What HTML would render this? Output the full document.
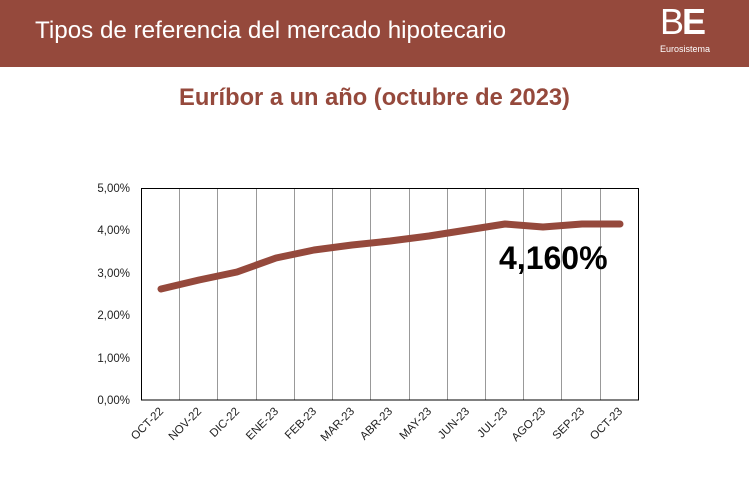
<!DOCTYPE html>
<html><head><meta charset="utf-8"><style>
body{margin:0;width:749px;height:499px;background:#fff;font-family:"Liberation Sans",sans-serif;overflow:hidden;position:relative}
.hdr{position:absolute;left:0;top:0;width:749px;height:67px;background:#95493c}
.hdr .t{position:absolute;left:35px;top:17px;color:#fff;font-size:24.2px}
</style></head><body>
<div class="hdr"><div class="t">Tipos de referencia del mercado hipotecario</div>
<div style="position:absolute;left:660px;top:4px;color:#fff;font-size:36px;letter-spacing:-2px;line-height:36px"><span style="font-weight:300">B</span><b>E</b></div>
<div style="position:absolute;left:660px;top:44px;color:#fff;font-size:9px">Eurosistema</div>
</div>
<div style="position:absolute;left:0;width:749px;top:85px;text-align:center;color:#95493c;font-size:23.7px;font-weight:bold">Euríbor a un año (octubre de 2023)</div>
<svg width="749" height="499" style="position:absolute;left:0;top:0" font-family="Liberation Sans, sans-serif">
<g stroke="#999" stroke-width="1">
<line x1="179.5" y1="188" x2="179.5" y2="400"/><line x1="217.5" y1="188" x2="217.5" y2="400"/><line x1="256.5" y1="188" x2="256.5" y2="400"/><line x1="294.5" y1="188" x2="294.5" y2="400"/><line x1="332.5" y1="188" x2="332.5" y2="400"/><line x1="370.5" y1="188" x2="370.5" y2="400"/><line x1="409.5" y1="188" x2="409.5" y2="400"/><line x1="447.5" y1="188" x2="447.5" y2="400"/><line x1="485.5" y1="188" x2="485.5" y2="400"/><line x1="523.5" y1="188" x2="523.5" y2="400"/><line x1="561.5" y1="188" x2="561.5" y2="400"/><line x1="600.5" y1="188" x2="600.5" y2="400"/>
</g>
<rect x="141.5" y="188.5" width="497" height="211.5" fill="none" stroke="#000" stroke-width="1"/>
<g font-size="11.5" fill="#222" text-anchor="end">
<text x="130" y="192">5,00%</text><text x="130" y="234">4,00%</text><text x="130" y="277">3,00%</text><text x="130" y="319">2,00%</text><text x="130" y="362">1,00%</text><text x="130" y="404">0,00%</text>
</g>
<g font-size="11.5" fill="#222" text-anchor="end">
<text transform="translate(164,412) rotate(-45)">OCT-22</text>
<text transform="translate(202,412) rotate(-45)">NOV-22</text>
<text transform="translate(240,412) rotate(-45)">DIC-22</text>
<text transform="translate(279,412) rotate(-45)">ENE-23</text>
<text transform="translate(317,412) rotate(-45)">FEB-23</text>
<text transform="translate(355,412) rotate(-45)">MAR-23</text>
<text transform="translate(393,412) rotate(-45)">ABR-23</text>
<text transform="translate(432,412) rotate(-45)">MAY-23</text>
<text transform="translate(470,412) rotate(-45)">JUN-23</text>
<text transform="translate(508,412) rotate(-45)">JUL-23</text>
<text transform="translate(546,412) rotate(-45)">AGO-23</text>
<text transform="translate(585,412) rotate(-45)">SEP-23</text>
<text transform="translate(623,412) rotate(-45)">OCT-23</text>
</g>
<polyline fill="none" stroke="#95493c" stroke-width="7" stroke-linecap="round" stroke-linejoin="round"
points="161,289 199,280 237,272 276,258 314,250 352,245 390,241 429,236 467,230 505,224 543,227 582,224 620,224"/>
<text x="499" y="269" font-size="32" font-weight="bold" fill="#000">4,160%</text>
</svg>
</body></html>
